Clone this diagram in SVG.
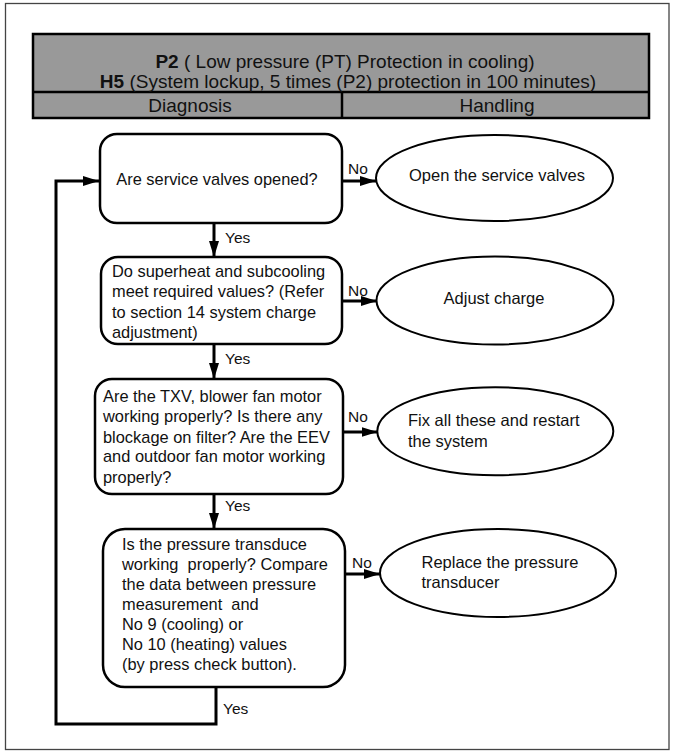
<svg xmlns="http://www.w3.org/2000/svg" width="674" height="754" viewBox="0 0 674 754">
<style>
.hdr{fill:#999999;stroke:#000;stroke-width:2.5}
.ht{font-family:"Liberation Sans",Arial,sans-serif;font-size:19px;fill:#111}
.node{fill:#fff;stroke:#000;stroke-width:2.5}
.ell{fill:#fff;stroke:#000;stroke-width:2}
.nt{font-family:"Liberation Sans",Arial,sans-serif;font-size:16.4px;fill:#111}
.et{font-family:"Liberation Sans",Arial,sans-serif;font-size:16.5px;fill:#111}
.lbl{font-family:"Liberation Sans",Arial,sans-serif;font-size:15.5px;fill:#111}
.con{fill:none;stroke:#000;stroke-width:3}
</style>
<defs>
<marker id="ah" markerUnits="userSpaceOnUse" markerWidth="16" markerHeight="10" refX="16" refY="5" orient="auto">
<path d="M0,0 L16,5 L0,10 z" fill="#000"/>
</marker>
</defs>
<rect x="0" y="0" width="674" height="754" fill="#fff"/>
<rect x="5.5" y="3.5" width="663.5" height="746" fill="none" stroke="#444" stroke-width="1.3"/>

<g id="header">
<rect class="hdr" x="33" y="34" width="616" height="84"/>
<line x1="33" y1="92" x2="649" y2="92" stroke="#000" stroke-width="2.5"/>
<line x1="342" y1="92" x2="342" y2="118" stroke="#000" stroke-width="2.5"/>
<text class="ht" x="345" y="68" text-anchor="middle"><tspan font-weight="bold">P2</tspan> ( Low pressure (PT) Protection in cooling)</text>
<text class="ht" x="348" y="87.5" text-anchor="middle"><tspan font-weight="bold">H5</tspan> (System lockup, 5 times (P2) protection in 100 minutes)</text>
<text class="ht" x="190" y="112" text-anchor="middle">Diagnosis</text>
<text class="ht" x="497" y="112" text-anchor="middle">Handling</text>
</g>

<g id="connectors">
<line class="con" x1="214" y1="223" x2="214" y2="257" marker-end="url(#ah)"/>
<line class="con" x1="214" y1="344" x2="214" y2="379" marker-end="url(#ah)"/>
<line class="con" x1="214" y1="494" x2="214" y2="529" marker-end="url(#ah)"/>
<line class="con" x1="342" y1="181" x2="376" y2="181" marker-end="url(#ah)"/>
<line class="con" x1="342" y1="301" x2="377" y2="301" marker-end="url(#ah)"/>
<line class="con" x1="343" y1="432" x2="377.5" y2="432" marker-end="url(#ah)"/>
<line class="con" x1="345" y1="574" x2="380" y2="574" marker-end="url(#ah)"/>
<polyline class="con" points="216,687 216,724 56,724 56,181 99,181" marker-end="url(#ah)"/>
<text class="lbl" x="225" y="242.5">Yes</text>
<text class="lbl" x="225" y="363.5">Yes</text>
<text class="lbl" x="225" y="510.5">Yes</text>
<text class="lbl" x="223" y="713.5">Yes</text>
<text class="lbl" x="348" y="173.5">No</text>
<text class="lbl" x="348" y="295.5">No</text>
<text class="lbl" x="348" y="422">No</text>
<text class="lbl" x="352" y="568">No</text>
</g>

<g id="n1">
<rect class="node" x="100" y="134" width="242" height="89" rx="17"/>
<text class="nt" x="217" y="184.5" text-anchor="middle">Are service valves opened?</text>
</g>
<g id="n2">
<rect class="node" x="101" y="257" width="241" height="87" rx="17"/>
<text class="nt"><tspan x="112" y="277">Do superheat and subcooling</tspan><tspan x="112" y="297">meet required values? (Refer</tspan><tspan x="112" y="317.5">to section 14 system charge</tspan><tspan x="112" y="338">adjustment)</tspan></text>
</g>
<g id="n3">
<rect class="node" x="95" y="379" width="248" height="115" rx="17"/>
<text class="nt"><tspan x="103" y="402">Are the TXV, blower fan motor</tspan><tspan x="103" y="422">working properly? Is there any</tspan><tspan x="103" y="442.5">blockage on filter? Are the EEV</tspan><tspan x="103" y="462">and outdoor fan motor working</tspan><tspan x="103" y="483">properly?</tspan></text>
</g>
<g id="n4">
<rect class="node" x="103" y="529" width="242" height="158" rx="22"/>
<text class="nt" xml:space="preserve"><tspan x="122" y="549.5">Is the pressure transduce</tspan><tspan x="122" y="569.5">working  properly? Compare</tspan><tspan x="122" y="589.5">the data between pressure</tspan><tspan x="122" y="609.5">measurement  and</tspan><tspan x="122" y="629.5">No 9 (cooling) or</tspan><tspan x="122" y="649.5">No 10 (heating) values</tspan><tspan x="122" y="669.5">(by press check button).</tspan></text>
</g>

<g id="e1">
<ellipse class="ell" cx="494.5" cy="178" rx="118.5" ry="43"/>
<text class="et" x="497" y="181" text-anchor="middle">Open the service valves</text>
</g>
<g id="e2">
<ellipse class="ell" cx="495" cy="300.5" rx="118.5" ry="44"/>
<text class="et" x="494" y="303.5" text-anchor="middle">Adjust charge</text>
</g>
<g id="e3">
<ellipse class="ell" cx="495.3" cy="431.2" rx="118" ry="44"/>
<text class="et"><tspan x="408" y="426">Fix all these and restart</tspan><tspan x="408" y="447">the system</tspan></text>
</g>
<g id="e4">
<ellipse class="ell" cx="498" cy="573" rx="118" ry="44"/>
<text class="et"><tspan x="421.5" y="568">Replace the pressure</tspan><tspan x="421.5" y="588">transducer</tspan></text>
</g>
</svg>
